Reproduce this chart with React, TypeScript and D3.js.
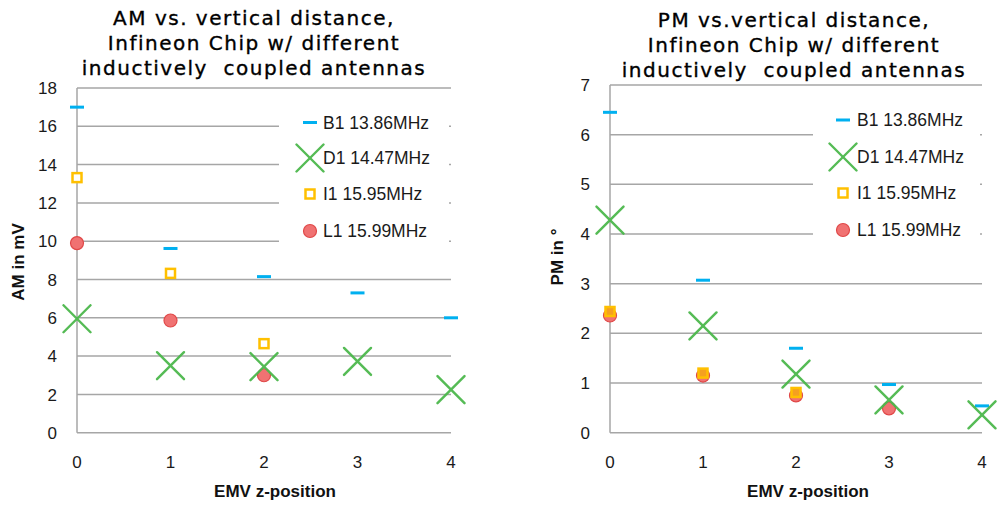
import React from "react";
import * as d3 from "d3";

const categories = [0, 1, 2, 3, 4];
const seriesNames = ["B1 13.86MHz", "D1 14.47MHz", "I1 15.95MHz", "L1 15.99MHz"];

const amB1 = [17.0, 9.62, 8.15, 7.3, 6.0];
const amD1 = [5.95, 3.5, 3.45, 3.72, 2.25];
const amI1: (number | null)[] = [13.32, 8.32, 4.65, null, null];
const amL1: (number | null)[] = [9.9, 5.86, 3.0, null, null];

const pmB1 = [6.45, 3.07, 1.7, 0.97, 0.54];
const pmD1 = [4.28, 2.15, 1.18, 0.66, 0.36];
const pmI1: (number | null)[] = [2.44, 1.2, 0.81, null, null];
const pmL1: (number | null)[] = [2.36, 1.15, 0.75, 0.49, null];

const amTicks = [0, 2, 4, 6, 8, 10, 12, 14, 16, 18];
const pmTicks = [0, 1, 2, 3, 4, 5, 6, 7];

const amTitle = ["AM vs. vertical distance,", "Infineon Chip w/ different", "inductively  coupled antennas"];
const pmTitle = ["PM vs.vertical distance,", "Infineon Chip w/ different", "inductively  coupled antennas"];

const BLUE = "#00B0F0";
const GREEN = "#4CB84C";
const YELLOW = "#FFC000";
const RED_FILL = "#F07272";
const RED_STROKE = "#E04848";
const GRID = "#A6A6A6";
const TXT = "#1a1a1a";
const TICKFONT = "'Liberation Sans', Arial, sans-serif";
const TITLEFONT = "'DejaVu Sans', Verdana, sans-serif";

type Marker = "dash" | "x" | "square" | "circle";

function MarkerShape({ type, cx, cy, squareFill }: { type: Marker; cx: number; cy: number; squareFill?: string }) {
  if (type === "dash") return <rect x={cx - 7} y={cy - 1.5} width={14} height={3} fill={BLUE} />;
  if (type === "x") {
    const s = 13.5;
    return (
      <g stroke={GREEN} strokeWidth={2.4} strokeLinecap="round" opacity={0.95}>
        <line x1={cx - s} y1={cy - s} x2={cx + s} y2={cy + s} />
        <line x1={cx - s} y1={cy + s} x2={cx + s} y2={cy - s} />
      </g>
    );
  }
  if (type === "square")
    return <rect x={cx - 4.5} y={cy - 4.5} width={9} height={9} fill={squareFill || "#fff"} stroke={YELLOW} strokeWidth={2.5} />;
  return <circle cx={cx} cy={cy} r={6.5} fill={RED_FILL} stroke={RED_STROKE} strokeWidth={1.2} />;
}

interface ChartProps {
  x0: number; x1: number; yTop: number; yBot: number; yMax: number; ticks: number[];
  title: string[]; titleX: number; titleY0: number; yLabel: string; yLabelX: number; yLabelY: number;
  xLabelX: number; b1: (number | null)[]; d1: (number | null)[]; i1: (number | null)[]; l1: (number | null)[];
  legend: { x0: number; x1: number; y0: number; y1: number; mx: number; tx: number; rows: number[] };
  squareFill: string;
}

function Chart(p: ChartProps) {
  const x = d3.scaleLinear().domain([0, 4]).range([p.x0, p.x1]);
  const y = d3.scaleLinear().domain([0, p.yMax]).range([p.yBot, p.yTop]);
  const pts = (arr: (number | null)[]) =>
    categories.map((c, i) => ({ c, v: arr[i] })).filter((d) => d.v !== null && d.v !== undefined) as { c: number; v: number }[];
  const markers: Marker[] = ["dash", "x", "square", "circle"];
  return (
    <g>
      {p.title.map((t, i) => (
        <text key={i} x={p.titleX} y={p.titleY0 + i * 25} textAnchor="middle" fontFamily={TITLEFONT} fontSize={20}
          letterSpacing={1.5} fill="#000" stroke="#000" strokeWidth={0.35} style={{ whiteSpace: "pre" }}>{t}</text>
      ))}
      {p.ticks.map((t) => (
        <line key={"g" + t} x1={p.x0} x2={p.x1} y1={y(t)} y2={y(t)} stroke={GRID} strokeWidth={1.5} />
      ))}
      <line x1={p.x0} x2={p.x0} y1={y(p.yMax)} y2={y(0)} stroke={GRID} strokeWidth={1.5} />
      {p.ticks.map((t) => (
        <text key={"t" + t} x={p.x0 - 20} y={y(t)} dy="0.36em" textAnchor="end" fontFamily={TICKFONT} fontSize={17} fill={TXT}>{t}</text>
      ))}
      {categories.map((c) => (
        <text key={"c" + c} x={x(c)} y={468} textAnchor="middle" fontFamily={TICKFONT} fontSize={17} fill={TXT}>{c}</text>
      ))}
      <text x={p.xLabelX} y={497} textAnchor="middle" fontFamily={TICKFONT} fontSize={17} fontWeight="bold" fill="#111">EMV z-position</text>
      <text transform={`translate(${p.yLabelX},${p.yLabelY}) rotate(-90)`} textAnchor="middle" dy="0.36em"
        fontFamily={TICKFONT} fontSize={17} fontWeight="bold" fill="#111">{p.yLabel}</text>
      <rect x={p.legend.x0} y={p.legend.y0} width={p.legend.x1 - p.legend.x0} height={p.legend.y1 - p.legend.y0} fill="#fff" />
      {seriesNames.map((n, i) => (
        <g key={n}>
          <MarkerShape type={markers[i]} cx={p.legend.mx} cy={p.legend.rows[i]} />
          <text x={p.legend.tx} y={p.legend.rows[i]} dy="0.36em" fontFamily={TICKFONT} fontSize={17.5} fill={TXT}>{n}</text>
        </g>
      ))}
      {pts(p.b1).map((d, i) => <MarkerShape key={"b" + i} type="dash" cx={x(d.c)} cy={y(d.v)} />)}
      {pts(p.l1).map((d, i) => <MarkerShape key={"l" + i} type="circle" cx={x(d.c)} cy={y(d.v)} />)}
      {pts(p.i1).map((d, i) => <MarkerShape key={"i" + i} type="square" cx={x(d.c)} cy={y(d.v)} squareFill={p.squareFill} />)}
      {pts(p.d1).map((d, i) => <MarkerShape key={"d" + i} type="x" cx={x(d.c)} cy={y(d.v)} />)}
    </g>
  );
}

export default function App() {
  return (
    <svg width={998} height={505} style={{ position: "absolute", left: 0, top: 0, background: "#fff" }}>
      <rect width={998} height={505} fill="#fff" />
      <Chart x0={77} x1={451} yTop={88} yBot={432.7} yMax={18} ticks={amTicks} title={amTitle} titleX={254} titleY0={25}
        yLabel="AM in mV" yLabelX={18} yLabelY={262} xLabelX={275} b1={amB1} d1={amD1} i1={amI1} l1={amL1}
        legend={{ x0: 279, x1: 449, y0: 103, y1: 252, mx: 310, tx: 323, rows: [122.5, 158, 194, 231] }} squareFill="#fff" />
      <Chart x0={610} x1={982} yTop={85} yBot={432.7} yMax={7} ticks={pmTicks} title={pmTitle} titleX={794} titleY0={27}
        yLabel="PM in °" yLabelX={557} yLabelY={257} xLabelX={808} b1={pmB1} d1={pmD1} i1={pmI1} l1={pmL1}
        legend={{ x0: 813, x1: 980, y0: 100, y1: 252, mx: 843, tx: 857, rows: [120, 157, 193, 230] }} squareFill="#F5A020" />
    </svg>
  );
}
